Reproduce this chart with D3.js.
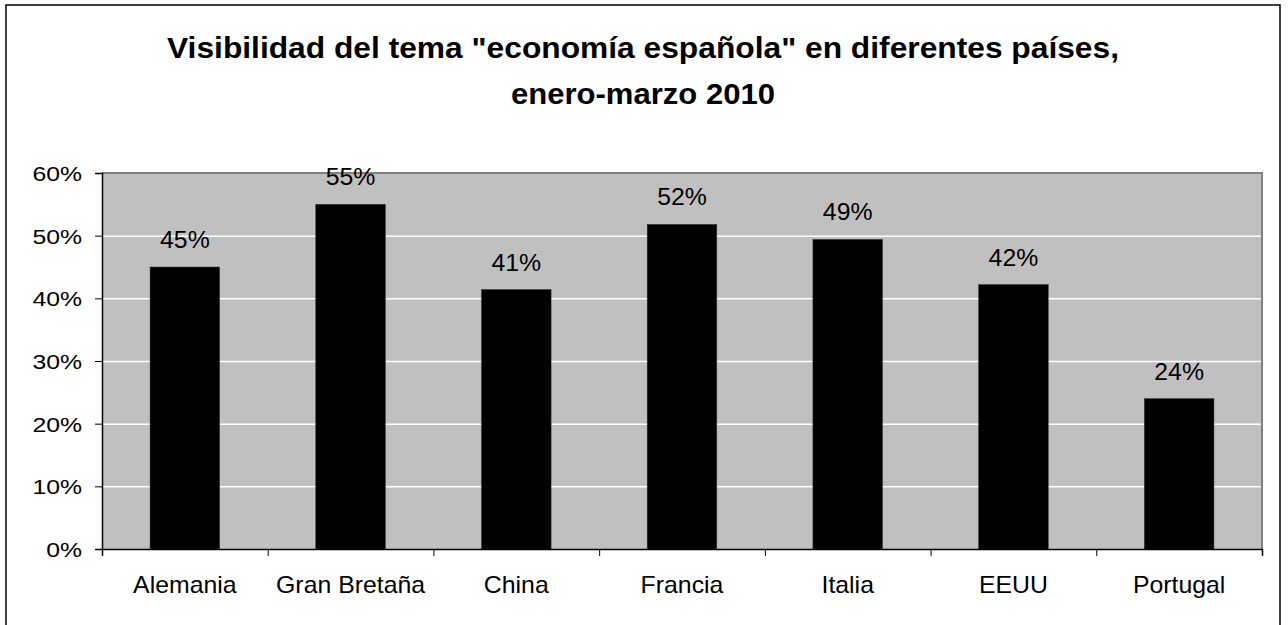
<!DOCTYPE html>
<html>
<head>
<meta charset="utf-8">
<script src="https://cdn.jsdelivr.net/npm/d3@7"></script>
<style>
  body { margin: 0; background: #fff; }
  svg text { font-family: "Liberation Sans", Arial, sans-serif; }
</style>
</head>
<body>
<div id="chart"></div>
<script>
// datos
var categories = ["Alemania", "Gran Bretaña", "China", "Francia", "Italia", "EEUU", "Portugal"];
var values = [0.450, 0.550, 0.414, 0.518, 0.494, 0.422, 0.240];
var yTicks = [0, 0.1, 0.2, 0.3, 0.4, 0.5, 0.6];
var titleLines = ["Visibilidad del tema \"economía española\" en diferentes países,", "enero-marzo 2010"];

var width = 1288, height = 625;
var plot = { left: 102, right: 1262, top: 173, bottom: 549 };
var sx = 1.18; // el original está estirado en horizontal

var svg = d3.select("#chart").append("svg")
    .attr("width", width)
    .attr("height", height);

// marco exterior
svg.append("rect")
    .attr("x", 6).attr("y", 5)
    .attr("width", 1274).attr("height", 660)
    .attr("fill", "#fff")
    .attr("stroke", "#000")
    .attr("stroke-width", 1.5);

// titulo
var titleY = [58, 104];
var titleW = [952, 264];
svg.selectAll("text.title")
    .data(titleLines)
    .enter()
    .append("text")
    .attr("class", "title")
    .attr("x", 643)
    .attr("y", function (d, i) { return titleY[i]; })
    .attr("text-anchor", "middle")
    .attr("font-size", 30)
    .attr("font-weight", "bold")
    .attr("textLength", function (d, i) { return titleW[i]; })
    .attr("lengthAdjust", "spacingAndGlyphs")
    .text(function (d) { return d; });

var x = d3.scaleBand()
    .domain(categories)
    .range([plot.left, plot.right])
    .paddingInner(0.58)
    .paddingOuter(0.29);

var y = d3.scaleLinear()
    .domain([0, 0.6])
    .range([plot.bottom, plot.top]);

// fondo del area de trazado
svg.append("rect")
    .attr("x", plot.left).attr("y", plot.top)
    .attr("width", plot.right - plot.left)
    .attr("height", plot.bottom - plot.top)
    .attr("fill", "#c0c0c0");

// lineas de division
svg.append("g")
    .attr("transform", "translate(" + plot.left + ",0)")
    .call(d3.axisLeft(y).tickValues(yTicks.slice(1, -1)).tickSize(-(plot.right - plot.left)).tickFormat(""))
    .call(function (g) {
        g.select(".domain").remove();
        g.selectAll(".tick line").attr("stroke", "#fff").attr("stroke-width", 1.5);
    });

// borde superior y derecho
svg.append("path")
    .attr("d", "M" + plot.left + "," + plot.top + "H" + plot.right + "V" + plot.bottom)
    .attr("fill", "none")
    .attr("stroke", "#808080")
    .attr("stroke-width", 2);

// barras
svg.append("g").selectAll("rect")
    .data(values)
    .enter()
    .append("rect")
    .attr("x", function (d, i) { return x(categories[i]); })
    .attr("y", function (d) { return y(d); })
    .attr("width", x.bandwidth())
    .attr("height", function (d) { return y(0) - y(d); })
    .attr("fill", "#000")
    .attr("stroke", "#333")
    .attr("stroke-width", 0.5);

// etiquetas de datos
var fmt = d3.format(".0%");
svg.append("g").selectAll("text")
    .data(values)
    .enter()
    .append("text")
    .attr("text-anchor", "middle")
    .attr("font-size", 23)
    .attr("fill", "#000")
    .attr("transform", function (d, i) {
        var cx = x(categories[i]) + x.bandwidth() / 2;
        return "translate(" + cx + "," + (y(d) - 19) + ") scale(1.08,1)";
    })
    .text(function (d) { return fmt(d); });

// eje Y
svg.append("g")
    .attr("transform", "translate(" + plot.left + ",0)")
    .call(d3.axisLeft(y).tickValues(yTicks).tickSize(7).tickPadding(0).tickFormat(d3.format(".0%")))
    .call(function (g) {
        g.select(".domain").attr("stroke", "#000").attr("stroke-width", 1.5);
        g.selectAll(".tick line").attr("stroke", "#000");
        g.selectAll(".tick text")
            .attr("font-size", 21)
            .attr("fill", "#000")
            .attr("x", 0)
            .attr("dy", "0.35em")
            .attr("transform", "translate(-20,0) scale(" + sx + ",1)");
    });

// eje X: marcas en los limites de cada categoria
var xb = d3.scaleLinear().domain([0, categories.length]).range([plot.left, plot.right]);
svg.append("g")
    .attr("transform", "translate(0," + plot.bottom + ")")
    .call(d3.axisBottom(xb).tickValues(d3.range(categories.length + 1)).tickSize(7).tickFormat(""))
    .call(function (g) {
        g.select(".domain").attr("stroke", "#000").attr("stroke-width", 1.5);
        g.selectAll(".tick line").attr("stroke", "#000");
    });

// etiquetas de categorias
svg.append("g")
    .attr("transform", "translate(0," + plot.bottom + ")")
    .call(d3.axisBottom(x).tickSize(0).tickPadding(0))
    .call(function (g) {
        g.select(".domain").remove();
        g.selectAll(".tick text")
            .attr("font-size", 23)
            .attr("fill", "#000")
            .attr("y", 0)
            .attr("dy", 0)
            .attr("transform", "translate(0,44) scale(1.08,1)");
    });
</script>
</body>
</html>
